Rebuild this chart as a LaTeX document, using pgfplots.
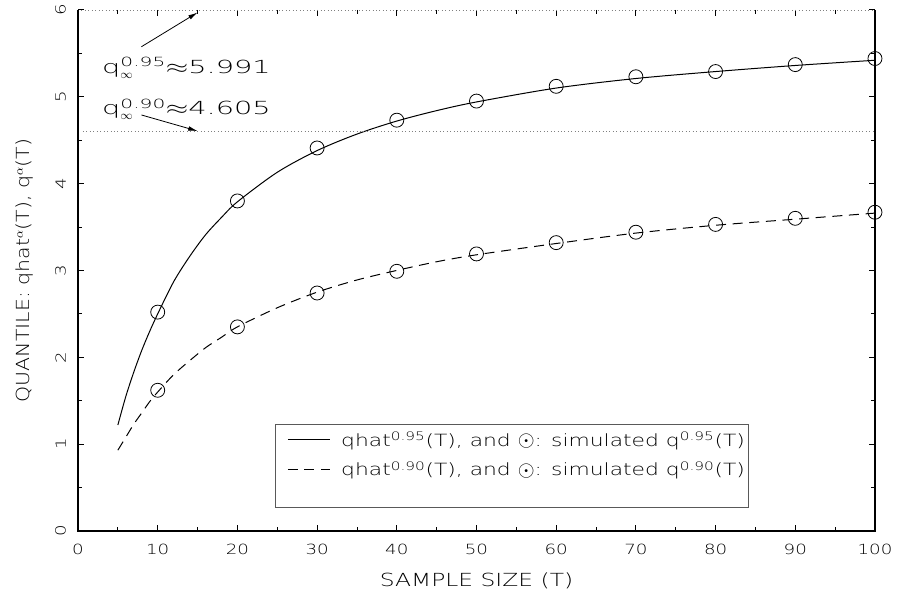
\documentclass[border=0pt]{standalone}
\usepackage{amsmath}
\usepackage{pgfplots}
\pgfplotsset{compat=1.18}
\usepackage{fontspec}
\setmainfont{DejaVu Sans ExtraLight}[FakeStretch=1.3]
\newfontfamily\ylabfont{DejaVu Sans ExtraLight}[FakeStretch=1.14]
\newfontfamily\annfont{DejaVu Sans ExtraLight}[FakeStretch=1.6]
\usetikzlibrary{arrows.meta}
\newcommand{\simmark}{\raisebox{-0.1ex}{\scalebox{1.35}{$\odot$}}}

\begin{document}
\begin{tikzpicture}
\begin{axis}[
    scale only axis, width=598pt, height=391pt,
    xmin=0, xmax=100, ymin=0, ymax=6,
    xtick={0,10,...,100}, ytick={0,1,...,6},
    minor x tick num=1, minor y tick num=1,
    tick align=inside, major tick length=4.5pt, minor tick length=3pt,
    tick style={black, line width=0.6pt},
    axis line style={draw=none},
    clip=false,
    /pgf/number format/assume math mode=true,
    ticklabel style={font=\fontsize{10.5}{12}\selectfont, inner sep=0pt},
    xticklabel style={anchor=north},
    xticklabel shift=10pt,
    yticklabel style={rotate=90, anchor=south},
    yticklabel shift=9pt,
    label style={font=\fontsize{13.5}{16}\selectfont},
    xlabel={SAMPLE SIZE (T)},
    xlabel style={at={(axis description cs:0.5,-0.0958)}, anchor=center},
    ylabel={\ylabfont QUANTILE: qhat$^{\alpha}$(T), q$^{\alpha}$(T)},
    ylabel style={at={(axis description cs:-0.0671,0.50)}, anchor=center},
    legend style={draw=none, fill=none, at={(axis description cs:0.2622,0.1463)},
        anchor=west, inner sep=0pt, row sep=6pt,
        font=\fontsize{12.6}{15}\selectfont,
        cells={anchor=west, inner sep=0pt}},
    legend image code/.code={\draw[#1] (0pt,0pt) -- (31.5pt,0pt); \path (37.75pt,0pt);},
]

% fitted quantile curves
\addplot[black, line width=0.75pt, smooth] coordinates {
    (5,1.22)(6,1.55)(7,1.83)(8,2.08)(9,2.30)(10,2.50)(12,2.87)(14,3.16)
    (16,3.41)(18,3.61)(20,3.79)(25,4.13)(30,4.38)(35,4.57)(40,4.72)
    (45,4.84)(50,4.94)(60,5.10)(70,5.21)(80,5.29)(90,5.36)(100,5.42)};
\addlegendentry{qhat\textsuperscript{0.95}(T), and \simmark: simulated q\textsuperscript{0.95}(T)}

\addplot[black, line width=0.75pt, smooth, dash pattern=on 7.5pt off 5pt] coordinates {
    (5,0.93)(6,1.08)(7,1.23)(8,1.36)(9,1.49)(10,1.60)(12,1.80)(14,1.96)
    (16,2.11)(18,2.23)(20,2.35)(25,2.57)(30,2.75)(35,2.89)(40,3.00)
    (45,3.10)(50,3.18)(60,3.31)(70,3.43)(80,3.52)(90,3.59)(100,3.66)};
\addlegendentry{qhat\textsuperscript{0.90}(T), and \simmark: simulated q\textsuperscript{0.90}(T)}

% simulated quantiles
\addplot[only marks, mark=o, mark size=5.25pt, mark options={black, line width=0.6pt}, forget plot]
    coordinates {(10,2.52)(20,3.80)(30,4.41)(40,4.73)(50,4.95)(60,5.12)(70,5.23)(80,5.29)(90,5.37)(100,5.44)};
\addplot[only marks, mark=o, mark size=5.25pt, mark options={black, line width=0.6pt}, forget plot]
    coordinates {(10,1.62)(20,2.35)(30,2.74)(40,2.99)(50,3.19)(60,3.32)(70,3.44)(80,3.53)(90,3.60)(100,3.67)};

% asymptotic quantiles
\addplot[gray, dotted, line width=0.6pt, forget plot] coordinates {(0.6,4.605)(100,4.605)};
\addplot[gray, dotted, line width=0.6pt, forget plot] coordinates {(0,5.991)(100,5.991)};

\draw[black, line width=1.5pt] (rel axis cs:0,1) -- (rel axis cs:0,0) -- (rel axis cs:1,0) -- (rel axis cs:1,1);
\draw[gray!70!black, line width=0.6pt] (rel axis cs:0.2472,0.0454) rectangle (rel axis cs:0.8407,0.2045);

\node[anchor=base west, inner sep=0pt, font=\annfont\fontsize{13.5}{16}\selectfont] at (axis cs:3,5.263)
    {q$^{\text{0.95}}_{\infty}$\scalebox{1.5}[1]{$\approx$}5.991};
\node[anchor=base west, inner sep=0pt, font=\annfont\fontsize{13.5}{16}\selectfont] at (axis cs:3,4.79)
    {q$^{\text{0.90}}_{\infty}$\scalebox{1.5}[1]{$\approx$}4.605};
\draw[-{Latex[length=7pt,width=3.5pt]}, line width=0.6pt] (axis cs:7.96,5.576) -- (axis cs:15,5.97);
\draw[-{Latex[length=7pt,width=3.5pt]}, line width=0.6pt] (axis cs:7.96,4.79) -- (axis cs:15,4.605);

\coordinate (bbl) at (rel axis cs:-0.0979,-0.129);
\coordinate (btr) at (rel axis cs:1.0289,1.019);
\end{axis}
\pgfresetboundingbox
\path[use as bounding box] (bbl) rectangle (btr);
\end{tikzpicture}
\end{document}
